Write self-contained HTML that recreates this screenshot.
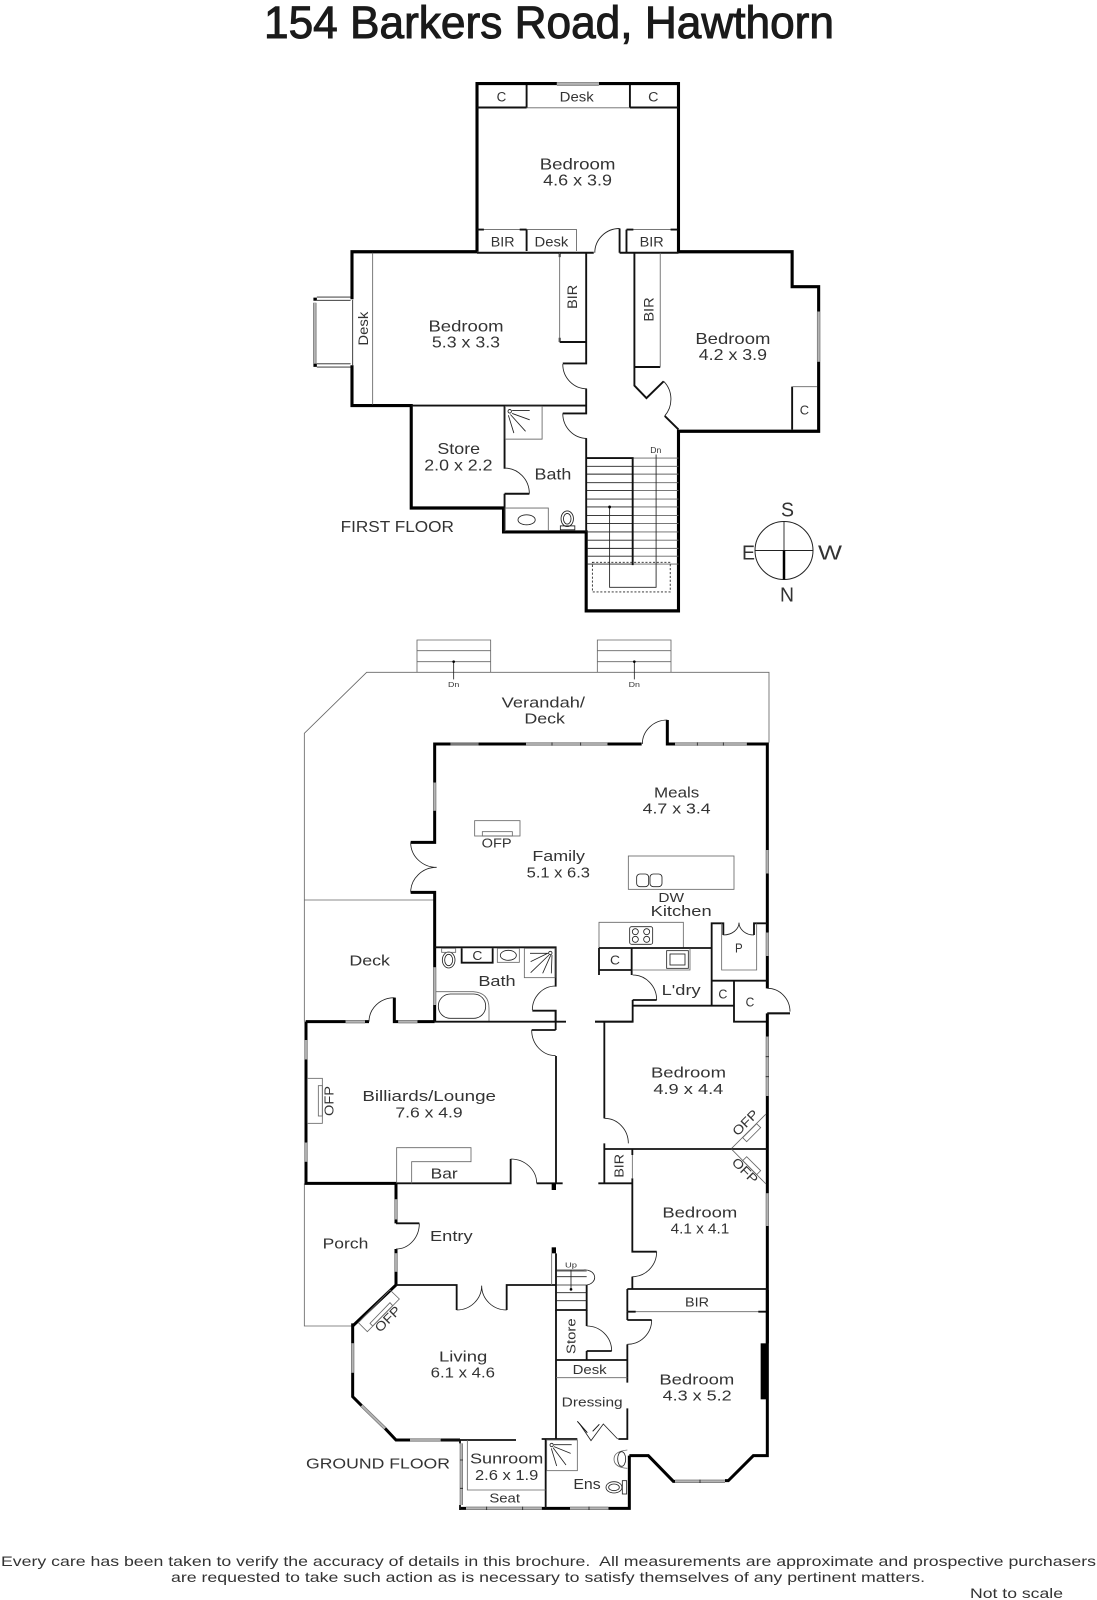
<!DOCTYPE html>
<html><head><meta charset="utf-8"><title>154 Barkers Road, Hawthorn</title>
<style>
html,body{margin:0;padding:0;background:#fff}
svg{display:block}
path,line,rect,ellipse,circle,polyline,polygon{fill:none}
.k{stroke:#000;stroke-width:9}
.m{stroke:#111;stroke-width:5.5}
.t{stroke:#666;stroke-width:2.5}
.h{stroke:#222;stroke-width:2.5}
.g{stroke:#777;stroke-width:10}
.g2{stroke:#b4b4b4;stroke-width:5.5}
.f{fill:#000}
text{font-family:"Liberation Sans",sans-serif;fill:#333}
.l{font-size:44px}
.s{font-size:39px}
.x{font-size:22px}
.p{font-size:14px}
</style></head><body>
<svg xmlns="http://www.w3.org/2000/svg" width="1097" height="1600" viewBox="0 0 1097 1600">
<rect x="0" y="0" width="1097" height="1600" style="fill:#fff"/>
<text x="264" y="38" textLength="570" lengthAdjust="spacingAndGlyphs" style="font-size:45px;fill:#1a1a1a;stroke:#1a1a1a;stroke-width:1">154 Barkers Road, Hawthorn</text>

<!-- FIRST FLOOR -->
<g transform="translate(290,60) scale(0.3444,0.357)">
<path class="k" d="M543 537V66H775M897 66H1128V537H1458V635H1535V705M1535 845V1040H1128V1543H860V1322H620V1255H352V968H180V855M180 670V537H543"/>
<path class="g" d="M775 67H897M1535 705V845M72 680V850"/>
<path class="g2" d="M775 67H897M1535 705V845M72 680V850"/>
<path class="h" d="M78 664H176M78 673H176M78 851H176M78 860H176M182 672V855"/>
<path class="k" d="M68 670h10M68 855h10"/>
<!-- top closets -->
<path class="m" d="M543 133H687M987 133H1128M687 70V133M987 70V133"/>
<line class="t" x1="687" y1="134" x2="987" y2="134"/>
<path class="t" d="M543 475H687V535M687 475H832V535M977 475H1125"/>
<path class="m" d="M687 475V535M977 475V540M543 475h20M667 475h20M977 475h20M1105 475h20"/>
<path class="m" d="M543 540H882M957 540H1128M957 472V540"/>
<path class="h" d="M885 540A72 68 0 0 1 957 472"/>
<!-- left bedroom -->
<line class="t" x1="240" y1="540" x2="240" y2="965"/>
<path class="m" d="M860 540V850H792M783 790H860M783 540v12M783 778v12M860 921V990H792M860 1060V1322M352 968H860"/>
<line class="t" x1="783" y1="540" x2="783" y2="790"/>
<path class="h" d="M792 852A70 69 0 0 0 862 921M792 990A70 70 0 0 0 862 1060"/>
<!-- store / bath -->
<path class="m" d="M623 968V1145M623 1215H695M623 1215V1322"/>
<path class="h" d="M623 1143A72 72 0 0 1 695 1215"/>
<rect class="t" x="625" y="970" width="107" height="92"/>
<circle class="h" cx="638" cy="984" r="5"/>
<path class="h" d="M645 982L696 982M645 990L696 1008M640 993L684 1040M634 995L650 1045"/>
<rect class="t" x="625" y="1255" width="125" height="63"/>
<ellipse class="h" cx="687" cy="1288" rx="25" ry="14"/>
<ellipse class="h" cx="805" cy="1285" rx="18" ry="22"/>
<ellipse class="h" cx="805" cy="1285" rx="11" ry="15"/>
<rect class="h" x="785" y="1305" width="42" height="11"/>
<!-- right bedroom -->
<path class="m" d="M1000 540V912L1035 947L1085 900M1088 997L1128 1035M1000 860H1075M1458 915V1035"/>
<line class="t" x1="1075" y1="540" x2="1075" y2="860"/>
<line class="t" x1="1458" y1="915" x2="1530" y2="915"/>
<path class="h" d="M1085 900A70 70 0 0 1 1088 997"/>
<!-- stairs -->
<path class="h" d="M862 1115H995M862 1138H995M862 1160H995M862 1184H995M862 1206H995M862 1230H995M862 1252H995M862 1276H995M862 1298H995M862 1322H995M862 1345H995M862 1368H995M862 1390H995M862 1412H995"/>
<path class="t" d="M995 1115H1128M995 1138H1128M995 1160H1128M995 1184H1128M995 1206H1128M995 1230H1128M995 1252H1128M995 1276H1128M995 1298H1128M995 1322H1128M995 1345H1128M995 1368H1128M995 1390H1128M995 1412H1128"/>
<path class="m" d="M862 1115H995V1415"/>
<path class="h" d="M1063 1105V1477H928V1252"/>
<circle class="f" cx="928" cy="1252" r="4"/>
<rect class="h" x="878" y="1407" width="226" height="83" stroke-dasharray="6 5"/>
<text class="x" x="1046" y="1101" textLength="32" lengthAdjust="spacingAndGlyphs">Dn</text>
<!-- labels -->
<text class="s" x="600" y="116" textLength="28" lengthAdjust="spacingAndGlyphs">C</text>
<text class="s" x="783" y="116" textLength="99" lengthAdjust="spacingAndGlyphs">Desk</text>
<text class="s" x="1040" y="116" textLength="30" lengthAdjust="spacingAndGlyphs">C</text>
<text class="l" x="725" y="307" textLength="220" lengthAdjust="spacingAndGlyphs">Bedroom</text>
<text class="l" x="735" y="352" textLength="200" lengthAdjust="spacingAndGlyphs">4.6 x 3.9</text>
<text class="s" x="583" y="523" textLength="69" lengthAdjust="spacingAndGlyphs">BIR</text>
<text class="s" x="710" y="523" textLength="98" lengthAdjust="spacingAndGlyphs">Desk</text>
<text class="s" x="1015" y="523" textLength="70" lengthAdjust="spacingAndGlyphs">BIR</text>
<text class="l" x="402" y="760" textLength="218" lengthAdjust="spacingAndGlyphs">Bedroom</text>
<text class="l" x="412" y="805" textLength="198" lengthAdjust="spacingAndGlyphs">5.3 x 3.3</text>
<text class="l" x="1177" y="795" textLength="218" lengthAdjust="spacingAndGlyphs">Bedroom</text>
<text class="l" x="1187" y="840" textLength="198" lengthAdjust="spacingAndGlyphs">4.2 x 3.9</text>
<text class="s" transform="translate(833,697) rotate(-90)" textLength="67" lengthAdjust="spacingAndGlyphs">BIR</text>
<text class="s" transform="translate(1056,733) rotate(-90)" textLength="68" lengthAdjust="spacingAndGlyphs">BIR</text>
<text class="s" transform="translate(226,800) rotate(-90)" textLength="95" lengthAdjust="spacingAndGlyphs">Desk</text>
<text class="s" x="1480" y="993" textLength="27" lengthAdjust="spacingAndGlyphs" style="font-size:36px">C</text>
<text class="l" x="428" y="1103" textLength="124" lengthAdjust="spacingAndGlyphs">Store</text>
<text class="l" x="390" y="1150" textLength="198" lengthAdjust="spacingAndGlyphs">2.0 x 2.2</text>
<text class="l" x="710" y="1175" textLength="107" lengthAdjust="spacingAndGlyphs">Bath</text>
<text class="l" x="147" y="1322" textLength="329" lengthAdjust="spacingAndGlyphs">FIRST FLOOR</text>
</g>

<!-- compass -->
<g transform="translate(1,-1.5)">
<circle cx="783" cy="552" r="29" style="stroke:#222;stroke-width:1"/>
<path d="M754 552H812M783 523V552" style="stroke:#222;stroke-width:.9"/>
<path d="M783 552V581" style="stroke:#000;stroke-width:2.5"/>
<text x="780" y="518" textLength="13" lengthAdjust="spacingAndGlyphs" style="font-size:20px">S</text>
<text x="741" y="561" textLength="13" lengthAdjust="spacingAndGlyphs" style="font-size:20px">E</text>
<text x="817" y="561" textLength="24" lengthAdjust="spacingAndGlyphs" style="font-size:20px">W</text>
<text x="779" y="603" textLength="14" lengthAdjust="spacingAndGlyphs" style="font-size:20px">N</text>
</g>

<!-- GROUND FLOOR, upper part -->
<g transform="translate(290,620) scale(0.33333)">
<path class="t" d="M43 1205V340L230 157H1437V368M43 840H432"/>
<path class="t" d="M381 157V60H602V157M381 92H602M381 125H602M922 157V60H1143V157M922 92H1143M922 125H1143"/>
<path class="h" d="M491 125V178M1033 125V178"/>
<circle class="f" cx="491" cy="125" r="4"/><circle class="f" cx="1033" cy="125" r="4"/>
<text class="x" x="474" y="201" textLength="34" lengthAdjust="spacingAndGlyphs">Dn</text>
<text class="x" x="1016" y="201" textLength="34" lengthAdjust="spacingAndGlyphs">Dn</text>
<!-- family walls -->
<path class="k" d="M1055 372H952M708 372H565M482 372H434V488M434 572V667H362M362 817H434V1042M434 1155V1205M1132 300V372H1155M1370 372H1432V690M1432 760V938M1432 1008V1105"/>
<path class="g" d="M482 372H565M708 372H952M1155 372H1370M434 488V572M434 1042V1155M1432 690V760M1432 938V1008"/>
<path class="g2" d="M708 372H952M1155 372H1370M434 488V572M434 1042V1155M1432 690V760M1432 938V1008"/>
<path class="h" d="M786 367v10M872 367v10M1222 367v10M1300 367v10"/>
<path class="h" d="M1057 372A75 72 0 0 1 1132 300M362 667A78 75 0 0 0 440 742M362 817A78 75 0 0 1 440 742"/>
<!-- OFP, island -->
<rect class="t" x="554" y="602" width="136" height="46"/>
<rect class="t" x="577" y="635" width="90" height="13"/>
<rect class="t" x="1015" y="708" width="317" height="100"/>
<rect class="h" x="1040" y="762" width="36" height="38" rx="10"/>
<rect class="h" x="1080" y="762" width="36" height="38" rx="10"/>
<!-- kitchen -->
<path class="t" d="M927 985V907H1180V985"/>
<rect class="h" x="1019" y="920" width="69" height="53" rx="6"/>
<circle class="h" cx="1036" cy="935" r="9"/><circle class="h" cx="1036" cy="958" r="9"/><circle class="h" cx="1070" cy="935" r="9"/><circle class="h" cx="1070" cy="958" r="9"/>
<path class="m" d="M927 984H1265M1265 1155V910H1300V945M1392 945V910H1432M1265 1082H1432M1332 1082V1205H1432M927 984V1065M1025 984V1065M927 1050H1025M1028 1157H1332M1028 1140H1100M1028 1140V1205H915"/>
<path class="t" d="M1295 910V1050H1400V910M1028 1050H1200V985"/>
<rect class="h" x="1130" y="992" width="65" height="53"/>
<rect class="h" x="1140" y="1002" width="45" height="33"/>
<path class="h" d="M1300 945A47 37 0 0 0 1347 908M1392 945A45 37 0 0 1 1347 908M1028 1065A72 75 0 0 1 1100 1140M1432 1105A68 70 0 0 1 1500 1175"/>
<path class="m" d="M1432 1180H1500"/>
<!-- bath -->
<path class="m" d="M434 982H797V1100M727 1172H797V1205M515 985V1028H608V985"/>
<path class="h" d="M797 1098A70 72 0 0 0 727 1170"/>
<ellipse class="h" cx="476" cy="1020" rx="19" ry="24"/><ellipse class="h" cx="476" cy="1020" rx="12" ry="17"/>
<rect class="t" x="455" y="985" width="42" height="12"/>
<rect class="t" x="622" y="985" width="66" height="42"/>
<ellipse class="h" cx="655" cy="1006" rx="24" ry="15"/>
<rect class="t" x="703" y="985" width="92" height="88"/>
<circle class="h" cx="781" cy="999" r="5"/>
<path class="h" d="M775 999L722 1025M777 1005L722 1058M782 1006L758 1060M786 1005L784 1060M720 1000H772"/>
<path class="t" d="M438 1115H550Q597 1118 597 1165V1205"/>
<rect class="h" x="445" y="1122" width="142" height="73" rx="36"/>
<!-- deck wall -->
<path class="k" d="M47 1205H167M225 1205H237M313 1133V1205H325M382 1205H434"/>
<path class="g" d="M167 1205H225M325 1205H382"/>
<path class="g2" d="M167 1205H225M325 1205H382"/>
<path class="m" d="M434 1205H828M915 1205H1028"/>
<path class="h" d="M237 1205A76 72 0 0 1 313 1133"/>
<!-- labels -->
<text class="l" x="635" y="262" textLength="250" lengthAdjust="spacingAndGlyphs">Verandah/</text>
<text class="l" x="703" y="311" textLength="122" lengthAdjust="spacingAndGlyphs">Deck</text>
<text class="l" x="1092" y="532" textLength="136" lengthAdjust="spacingAndGlyphs">Meals</text>
<text class="l" x="1058" y="580" textLength="204" lengthAdjust="spacingAndGlyphs">4.7 x 3.4</text>
<text class="s" x="575" y="682" textLength="90" lengthAdjust="spacingAndGlyphs">OFP</text>
<text class="l" x="727" y="723" textLength="158" lengthAdjust="spacingAndGlyphs">Family</text>
<text class="l" x="710" y="772" textLength="190" lengthAdjust="spacingAndGlyphs">5.1 x 6.3</text>
<text class="s" x="1105" y="846" textLength="77" lengthAdjust="spacingAndGlyphs">DW</text>
<text class="l" x="1082" y="888" textLength="183" lengthAdjust="spacingAndGlyphs">Kitchen</text>
<text class="s" x="1335" y="998" textLength="23" lengthAdjust="spacingAndGlyphs">P</text>
<text class="s" x="960" y="1033" textLength="30" lengthAdjust="spacingAndGlyphs">C</text>
<text class="s" x="547" y="1020" textLength="30" lengthAdjust="spacingAndGlyphs">C</text>
<text class="l" x="565" y="1098" textLength="112" lengthAdjust="spacingAndGlyphs">Bath</text>
<text class="l" x="178" y="1037" textLength="122" lengthAdjust="spacingAndGlyphs">Deck</text>
<text class="l" x="1115" y="1125" textLength="117" lengthAdjust="spacingAndGlyphs">L'dry</text>
<text class="s" x="1285" y="1135" textLength="27" lengthAdjust="spacingAndGlyphs">C</text>
<text class="s" x="1367" y="1160" textLength="26" lengthAdjust="spacingAndGlyphs">C</text>
</g>

<!-- GROUND FLOOR, middle part -->
<g transform="translate(290,1010) scale(0.33333)">
<path class="k" d="M48 35V90M48 148V398M48 455V520H320"/>
<path class="g" d="M48 90V148M48 398V455"/>
<path class="g2" d="M48 90V148M48 398V455"/>
<rect class="t" x="52" y="205" width="45" height="135"/>
<rect class="t" x="85" y="227" width="12" height="91"/>
<path class="m" d="M320 520H662V447M740 520H818M797 60H725M797 0V60M798 138V520"/>
<rect class="f" x="785" y="520" width="13" height="20"/>
<path class="h" d="M725 60A72 77 0 0 0 797 137M662 447A78 73 0 0 1 740 520"/>
<path class="t" d="M320 520V413H543V455H365V520"/>
<!-- right side -->
<path class="k" d="M1432 10V80M1432 258V550M1432 648V1000"/>
<path class="g" d="M1432 80V258M1432 550V648"/>
<path class="g2" d="M1432 80V258M1432 550V648"/>
<path class="h" d="M1427 140h10M1427 200h10"/>
<path class="m" d="M1432 10H1500"/>
<path class="m" d="M943 35V325M943 400V520M925 520H1027M943 417H1432M1027 417V435M1027 505V725H1100M1027 800V837M1012 837H1432M1012 837V905"/>
<line class="t" x1="1027" y1="435" x2="1027" y2="505"/>
<path class="h" d="M943 325A72 75 0 0 1 1015 400M1100 725A73 75 0 0 1 1027 800"/>
<path class="t" d="M1325 415L1428 312M1325 418L1428 522"/>
<polygon class="t" points="1358,383 1400,341 1412,353 1370,395"/>
<polygon class="t" points="1358,452 1370,440 1412,482 1400,494"/>
<path class="t" d="M1012 905H1430"/>
<path class="m" d="M1012 905H1037M1405 905H1430"/>
<!-- porch / entry -->
<path class="t" d="M43 520V948H188"/>
<path class="k" d="M318 520V568M318 628V640M318 717V730M318 785V825L188 948"/>
<path class="g" d="M318 568V628M318 730V785"/>
<path class="g2" d="M318 568V628M318 730V785"/>
<path class="m" d="M318 640H388M318 825H500V900M650 900V825H798"/>
<path class="h" d="M388 640A70 77 0 0 1 318 717M500 900A75 73 0 0 0 575 827M650 900A75 73 0 0 1 575 827"/>
<!-- stair -->
<rect class="f" x="785" y="712" width="13" height="18"/>
<path class="t" d="M785 730V825"/>
<path class="m" d="M798 730V900H890V825"/>
<path class="h" d="M800 783H890M800 800H890M800 825H890M800 848H890M800 872H890"/>
<path class="h" d="M800 780H880A28 22 0 0 1 890 825M843 780V838"/>
<circle class="f" cx="843" cy="838" r="4"/>
<text class="x" x="825" y="772" textLength="36" lengthAdjust="spacingAndGlyphs">Up</text>
<!-- labels -->
<text class="l" x="217" y="273" textLength="401" lengthAdjust="spacingAndGlyphs">Billiards/Lounge</text>
<text class="l" x="316" y="322" textLength="202" lengthAdjust="spacingAndGlyphs">7.6 x 4.9</text>
<text class="s" transform="translate(130,318) rotate(-90)" textLength="90" lengthAdjust="spacingAndGlyphs">OFP</text>
<text class="l" x="422" y="505" textLength="81" lengthAdjust="spacingAndGlyphs">Bar</text>
<text class="l" x="1083" y="203" textLength="225" lengthAdjust="spacingAndGlyphs">Bedroom</text>
<text class="l" x="1090" y="252" textLength="210" lengthAdjust="spacingAndGlyphs">4.9 x 4.4</text>
<text class="s" transform="translate(1000,503) rotate(-90)" textLength="71" lengthAdjust="spacingAndGlyphs">BIR</text>
<text class="s" transform="translate(1343,380) rotate(-45)" textLength="92" lengthAdjust="spacingAndGlyphs">OFP</text>
<text class="s" transform="translate(1323,459) rotate(45)" textLength="92" lengthAdjust="spacingAndGlyphs">OFP</text>
<text class="l" x="1117" y="622" textLength="225" lengthAdjust="spacingAndGlyphs">Bedroom</text>
<text class="l" x="1142" y="670" textLength="176" lengthAdjust="spacingAndGlyphs">4.1 x 4.1</text>
<text class="l" x="98" y="716" textLength="137" lengthAdjust="spacingAndGlyphs">Porch</text>
<text class="l" x="420" y="693" textLength="128" lengthAdjust="spacingAndGlyphs">Entry</text>
<text class="s" x="1185" y="890" textLength="72" lengthAdjust="spacingAndGlyphs">BIR</text>
</g>

<!-- GROUND FLOOR, lower part -->
<g transform="translate(290,1290) scale(0.33333)">
<path class="k" d="M188 100V160M188 248V320L215 347M285 415L318 450H360M452 450H510M1432 0V497H1390L1315 572H1305M1155 574H1150L1075 497H1018M510 655H528M755 655H840M955 655H1018V497"/>
<path class="g" d="M188 160V248M215 347L285 415M360 450H452M1155 574H1305M514 460V645M528 655H755M840 655H955"/>
<path class="g2" d="M188 160V248M215 347L285 415M360 450H452M1155 574H1305M514 460V645M528 655H755M840 655H955"/>
<path class="h" d="M510 510h9M510 595h9M590 650v10M698 650v10M897 650v10M1230 569v10"/>
<rect class="f" x="1412" y="160" width="18" height="168"/>
<path class="m" d="M452 450H678M755 447H862M985 447H1012V355M1012 278V163M1012 90H1085M1012 65V90M798 60V445M890 60V108M890 183H965M890 183V210M798 210H1012M767 447V655M510 450V460M510 645V660"/>
<line class="t" x1="798" y1="263" x2="1012" y2="263"/>
<path class="h" d="M1085 90A73 73 0 0 1 1012 163M890 108A75 75 0 0 1 965 183"/>
<!-- living OFP -->
<polygon class="t" points="300,0 328,27 232,125 205,98"/>
<polygon class="t" points="240,100 300,38 308,47 248,108"/>
<!-- folding door -->
<path class="h" d="M868 400L903 452L940 402L983 447"/>
<path class="m" d="M892 428L862 394M908 424L928 403" style="stroke-width:3"/>
<!-- sunroom / ens -->
<path class="t" d="M532 450V600H767"/>
<rect class="t" x="770" y="450" width="92" height="92"/>
<circle class="h" cx="785" cy="465" r="5"/>
<path class="h" d="M792 464H845M792 470L842 490M789 473L828 525M784 475L800 528"/>
<path class="t" d="M1012 480Q972 484 972 507Q972 532 1012 535"/>
<ellipse class="h" cx="995" cy="507" rx="12" ry="22"/>
<ellipse class="h" cx="972" cy="592" rx="24" ry="17"/><ellipse class="h" cx="972" cy="592" rx="16" ry="10"/>
<rect class="h" x="997" y="572" width="13" height="40"/>
<!-- labels -->
<text class="s" x="848" y="252" textLength="102" lengthAdjust="spacingAndGlyphs">Desk</text>
<text class="s" transform="translate(857,192) rotate(-90)" textLength="107" lengthAdjust="spacingAndGlyphs">Store</text>
<text class="s" x="815" y="350" textLength="183" lengthAdjust="spacingAndGlyphs">Dressing</text>
<text class="s" transform="translate(270,129) rotate(-45)" textLength="92" lengthAdjust="spacingAndGlyphs">OFP</text>
<text class="l" x="447" y="215" textLength="145" lengthAdjust="spacingAndGlyphs">Living</text>
<text class="l" x="422" y="263" textLength="193" lengthAdjust="spacingAndGlyphs">6.1 x 4.6</text>
<text class="l" x="1108" y="283" textLength="225" lengthAdjust="spacingAndGlyphs">Bedroom</text>
<text class="l" x="1118" y="332" textLength="207" lengthAdjust="spacingAndGlyphs">4.3 x 5.2</text>
<text class="l" x="48" y="535" textLength="432" lengthAdjust="spacingAndGlyphs">GROUND FLOOR</text>
<text class="l" x="540" y="520" textLength="220" lengthAdjust="spacingAndGlyphs">Sunroom</text>
<text class="l" x="555" y="570" textLength="190" lengthAdjust="spacingAndGlyphs">2.6 x 1.9</text>
<text class="s" x="598" y="637" textLength="92" lengthAdjust="spacingAndGlyphs">Seat</text>
<text class="l" x="850" y="597" textLength="82" lengthAdjust="spacingAndGlyphs">Ens</text>
</g>

<!-- footer -->
<text class="p" x="1" y="1566" textLength="1095" lengthAdjust="spacingAndGlyphs">Every care has been taken to verify the accuracy of details in this brochure.&#160; All measurements are approximate and prospective purchasers</text>
<text class="p" x="171" y="1582" textLength="754" lengthAdjust="spacingAndGlyphs">are requested to take such action as is necessary to satisfy themselves of any pertinent matters.</text>
<text class="p" x="970" y="1598" textLength="93" lengthAdjust="spacingAndGlyphs">Not to scale</text>
</svg>
</body></html>
